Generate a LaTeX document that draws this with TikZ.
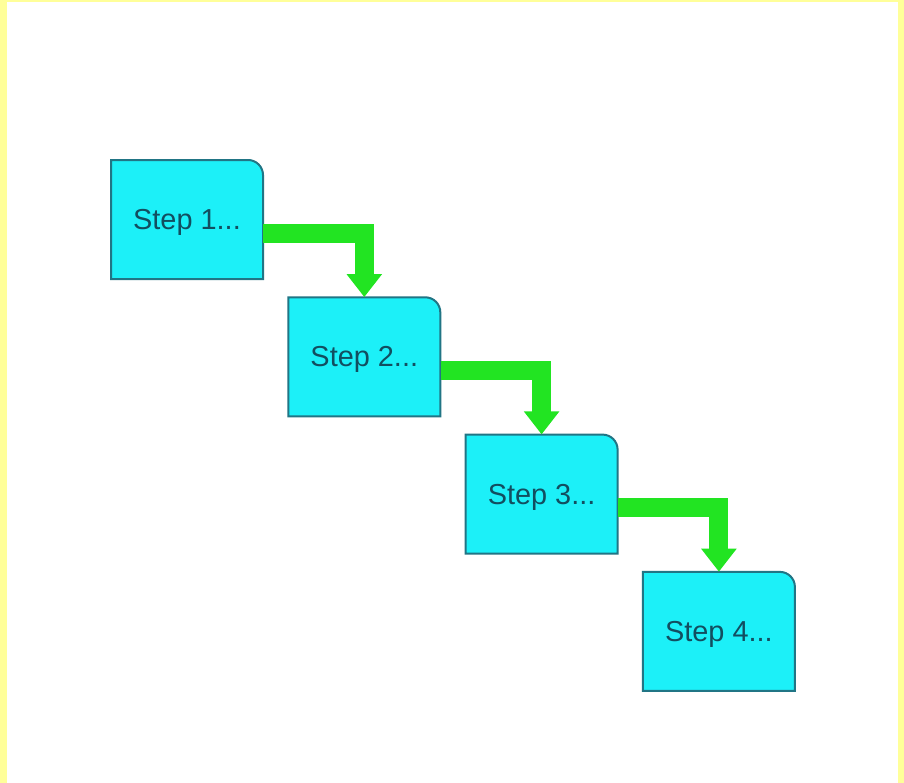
\documentclass[tikz,border=0pt]{standalone}
\usepackage{fontspec}
\setmainfont{Liberation Sans}
\usetikzlibrary{arrows.meta}
\definecolor{pageyellow}{HTML}{FFFF99}
\definecolor{stepcyan}{HTML}{1CF0F8}
\definecolor{stepline}{HTML}{217585}
\definecolor{steptext}{HTML}{124E60}
\definecolor{flowgreen}{HTML}{22E422}
\tikzset{
  stepframe/.style={fill=stepcyan,draw=stepline,line width=2bp},
  stepbox/.style={minimum width=152bp,minimum height=119bp,inner sep=0pt,
    text depth=0pt,text=steptext,font=\fontsize{29}{33}\selectfont},
  flow/.style={draw=flowgreen,line width=19bp,
    -{Triangle[width=34bp,length=23bp]}}
}

\begin{document}
\begin{tikzpicture}[x=1bp,y=-1bp]
  \fill[pageyellow] (0,0) rectangle (904,783);
  \fill[white] (7,2) rectangle (898,783);
  \foreach \i in {1,...,4}{
    \coordinate (c\i) at ({187+177.3*(\i-1)},{219.5+137.3*(\i-1)});
    \filldraw[stepframe] ([shift={(-76,59.5)}]c\i) -- ([shift={(-76,-59.5)}]c\i)
      -- ([shift={(61,-59.5)}]c\i) arc[start angle=90,end angle=0,radius=15bp]
      -- ([shift={(76,59.5)}]c\i) -- cycle;
    \node[stepbox] (s\i) at (c\i) {Step \i...};
  }
  \foreach \i [count=\j from 2] in {1,2,3}
    \draw[flow] ([yshift=-13.5bp]s\i.east) -| (s\j.north);
\end{tikzpicture}
\end{document}
